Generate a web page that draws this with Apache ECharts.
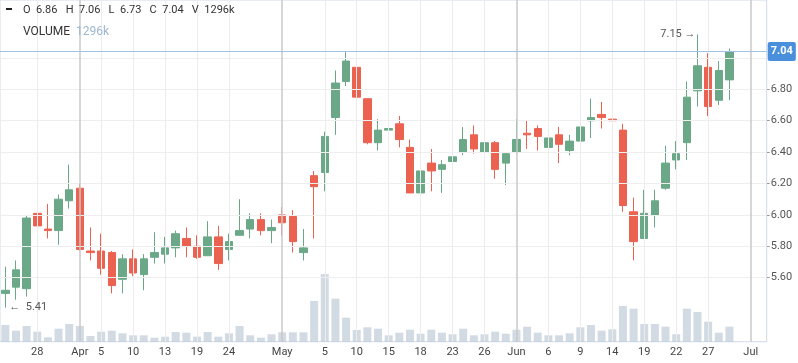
<!DOCTYPE html>
<html>
<head>
<meta charset="utf-8">
<script src="https://cdn.jsdelivr.net/npm/echarts@6/dist/echarts.min.js"></script>
<style>
html,body{margin:0;padding:0;background:#fff;}
#chart{width:798px;height:363px;}
</style>
</head>
<body>
<div id="chart"></div>
<script>
// ---- data ----
const categories = [
 '2023-03-23','2023-03-24','2023-03-27','2023-03-28','2023-03-29','2023-03-30','2023-03-31',
 '2023-04-03','2023-04-04','2023-04-05','2023-04-06','2023-04-07','2023-04-10','2023-04-11',
 '2023-04-12','2023-04-13','2023-04-17','2023-04-18','2023-04-19','2023-04-20','2023-04-21',
 '2023-04-24','2023-04-25','2023-04-26','2023-04-27','2023-04-28','2023-05-01','2023-05-02',
 '2023-05-03','2023-05-04','2023-05-05','2023-05-08','2023-05-09','2023-05-10','2023-05-11',
 '2023-05-12','2023-05-15','2023-05-16','2023-05-17','2023-05-18','2023-05-19','2023-05-22',
 '2023-05-23','2023-05-24','2023-05-25','2023-05-26','2023-05-30','2023-05-31','2023-06-01',
 '2023-06-02','2023-06-05','2023-06-06','2023-06-07','2023-06-08','2023-06-09','2023-06-12',
 '2023-06-13','2023-06-14','2023-06-15','2023-06-16','2023-06-19','2023-06-20','2023-06-21',
 '2023-06-22','2023-06-23','2023-06-26','2023-06-27','2023-06-28','2023-06-29','2023-06-30',
 '2023-07-03','2023-07-05'
];
const opens  = [5.50,5.54,5.53,6.01,5.91,5.90,6.09,6.17,5.77,5.77,5.76,5.59,5.72,5.62,5.73,5.75,5.79,5.85,5.80,5.74,
                5.86,5.78,5.87,5.91,5.97,5.90,6.00,5.99,5.76,6.25,6.27,6.62,6.85,6.94,6.74,6.46,6.54,6.58,6.43,6.14,
                6.33,6.29,6.34,6.40,6.51,6.40,6.46,6.33,6.40,6.52,6.55,6.43,6.51,6.41,6.47,6.60,6.64,6.61,6.54,6.02,
                5.85,6.00,6.17,6.35,6.46,6.79,6.94,6.73,6.86];
const closes = [5.52,5.65,5.98,5.93,5.90,6.10,6.16,5.78,5.76,5.66,5.55,5.72,5.63,5.72,5.76,5.79,5.88,5.80,5.73,5.86,
                5.69,5.83,5.90,5.97,5.90,5.92,5.95,5.83,5.79,6.18,6.50,6.84,6.98,6.75,6.46,6.54,6.55,6.48,6.14,6.28,
                6.28,6.32,6.37,6.48,6.42,6.46,6.29,6.39,6.48,6.51,6.50,6.49,6.45,6.47,6.56,6.62,6.62,6.60,6.06,5.83,
                6.01,6.09,6.33,6.39,6.75,6.95,6.69,6.92,7.04];
const lows   = [5.41,5.46,5.48,5.72,5.85,5.81,6.04,5.77,5.71,5.62,5.50,5.50,5.61,5.52,5.69,5.69,5.73,5.73,5.72,5.74,
                5.65,5.71,5.87,5.85,5.87,5.82,5.87,5.76,5.71,5.85,6.15,6.51,6.82,6.68,6.45,6.41,6.51,6.43,6.14,6.05,
                6.15,6.14,6.27,6.38,6.39,6.38,6.23,6.19,6.39,6.42,6.41,6.43,6.33,6.38,6.36,6.49,6.55,6.55,6.02,5.71,
                5.85,5.92,6.16,6.29,6.35,6.69,6.63,6.70,6.73];
const highs  = [5.67,5.71,6.00,6.06,6.07,6.13,6.32,6.20,5.92,5.88,5.77,5.75,5.78,5.75,5.89,5.86,5.90,5.92,5.87,5.96,
                5.93,5.88,6.10,6.01,6.01,5.97,6.05,6.03,5.91,6.28,6.53,6.92,7.04,7.00,6.74,6.61,6.61,6.63,6.48,6.29,
                6.42,6.35,6.38,6.56,6.57,6.53,6.47,6.40,6.61,6.60,6.57,6.59,6.56,6.51,6.57,6.74,6.72,6.76,6.58,6.11,
                6.16,6.16,6.44,6.47,6.85,7.15,7.03,6.98,7.06];
const volumes = [1443,950,1356,864,380,1123,1529,1356,492,864,950,726,553,553,346,432,838,778,432,838,
                 432,726,1356,553,346,639,812,812,812,3516,5849,3715,2074,1011,1244,1123,553,778,1037,691,
                 1037,778,639,1123,553,639,864,691,1037,1296,778,553,553,726,1244,1443,950,1071,3084,2851,
                 1529,1529,1296,639,2851,2566,1728,778,1296];
const priceTickLabels = [5.6,5.8,6.0,6.2,6.4,6.6,6.8];
const priceGridLines = [5.6,5.8,6.0,6.2,6.4,6.6,6.8,7.0];
const tickDates = ['2023-03-28','2023-04-03','2023-04-05','2023-04-10','2023-04-13','2023-04-19','2023-04-24',
                   '2023-05-01','2023-05-05','2023-05-10','2023-05-15','2023-05-18','2023-05-23','2023-05-26',
                   '2023-06-01','2023-06-06','2023-06-09','2023-06-14','2023-06-19','2023-06-22','2023-06-27',
                   '2023-07-03'];
const tickTexts = ['28','Apr','5','10','13','19','24','May','5','10','15','18','23','26',
                   'Jun','6','9','14','19','22','27','Jul'];
const monthNames = ['Apr','May','Jun','Jul'];

// ---- build ----
const UP = '#6aa888', DOWN = '#ec6251';
const FONT = 'Roboto, "Liberation Sans", sans-serif';
const tickMap = {};
tickDates.forEach((d,i)=>{ tickMap[d] = tickTexts[i]; });
const candleData = opens.map((o,i)=>[o, closes[i], lows[i], highs[i]]);
const n = opens.length;
const last = n - 1;
let hiIdx = 0, loIdx = 0;
highs.forEach((h,i)=>{ if (h > highs[hiIdx]) hiIdx = i; });
lows.forEach((l,i)=>{ if (l < lows[loIdx]) loIdx = i; });
const lastClose = closes[last];

const gridLineData = [];
priceGridLines.forEach(v => gridLineData.push({yAxis: v, lineStyle: {color: '#eeeeee', width: 1, type: 'solid'}}));
tickDates.forEach((d,i) => {
  const isMonth = monthNames.indexOf(tickTexts[i]) >= 0;
  gridLineData.push({xAxis: d, lineStyle: {color: isMonth ? '#c9c9c9' : '#ececec', width: isMonth ? 1.5 : 1, type: 'solid'}});
});

const chart = echarts.init(document.getElementById('chart'), null, {renderer: 'canvas'});
const fmt = v => v.toFixed(2);
const sp = '   ';
chart.setOption({
  animation: false,
  backgroundColor: '#ffffff',
  textStyle: {fontFamily: FONT},
  grid: {left: -5.6, top: 0, width: 772.3, height: 341.7, show: true, borderColor: '#cfdbe6', borderWidth: 1, backgroundColor: 'transparent'},
  xAxis: {
    type: 'category', data: categories, boundaryGap: true,
    axisLine: {show: false}, axisTick: {show: false}, splitLine: {show: false},
    axisLabel: {
      interval: (idx, val) => tickMap[val] !== undefined,
      formatter: val => tickMap[val] || '',
      color: '#444', fontSize: 11, margin: 5, fontFamily: FONT
    }
  },
  yAxis: [{
    type: 'value', position: 'right', min: 5.1924, max: 7.3688, scale: true,
    axisLine: {show: false},
    axisTick: {show: true, length: 3, lineStyle: {color: '#999'}, customValues: priceTickLabels},
    axisLabel: {customValues: priceTickLabels, formatter: v => v.toFixed(2), color: '#555', fontSize: 11, margin: 4, fontFamily: FONT},
    splitLine: {show: false}
  }, {
    type: 'value', min: 0, max: 29520, show: false, splitLine: {show: false}
  }],
  graphic: [
    {type: 'rect', shape: {x: 6, y: 8, width: 6, height: 2}, style: {fill: '#222'}, z: 100},
    {type: 'text', x: 23, y: 10, z: 100, style: {
      text: `O  ${fmt(opens[last])}${sp}H  ${fmt(highs[last])}${sp}L  ${fmt(lows[last])}${sp}C  ${fmt(closes[last])}${sp}V  ${volumes[last]}k`,
      fill: '#333', font: '11px ' + FONT, verticalAlign: 'middle'}},
    {type: 'text', x: 23, y: 32, z: 100, style: {
      text: 'VOLUME  {v|' + volumes[last] + 'k}',
      rich: {v: {fill: '#9db6cf', font: '12px ' + FONT}},
      fill: '#333', font: '12px ' + FONT, verticalAlign: 'middle'}}
  ],
  series: [
    {
      type: 'line', data: [], silent: true, z: 0, xAxisIndex: 0, yAxisIndex: 0,
      markLine: {symbol: 'none', silent: true, animation: false, label: {show: false}, emphasis: {disabled: true}, data: gridLineData}
    },
    {
      type: 'bar', data: volumes, yAxisIndex: 1, barWidth: 8, z: 1, silent: true,
      itemStyle: {color: 'rgba(166,183,200,0.5)'}
    },
    {
      type: 'line', data: [], silent: true, z: 2, xAxisIndex: 0, yAxisIndex: 0,
      markLine: {
        symbol: 'none', silent: true, animation: false,
        emphasis: {disabled: true},
        lineStyle: {color: '#a3c2e3', width: 1, type: 'solid'},
        label: {show: true, position: 'end', distance: 1, formatter: () => fmt(lastClose),
          backgroundColor: '#4a8fdc', color: '#fff', fontWeight: 'bold', fontSize: 11, lineHeight: 13,
          padding: [3, 3, 3, 3], borderRadius: 2, fontFamily: FONT},
        data: [{yAxis: lastClose, lineStyle: {color: '#a3c2e3', width: 1, type: 'solid'}}]
      }
    },
    {
      type: 'candlestick', data: candleData, barWidth: 8, z: 3,
      itemStyle: {color: UP, color0: DOWN, borderColor: UP, borderColor0: DOWN, borderWidth: 1},
      markPoint: {
        symbol: 'circle', symbolSize: 0, silent: true, animation: false,
        data: [
          {coord: [hiIdx, highs[hiIdx]], value: highs[hiIdx],
           label: {show: true, position: 'left', distance: 2, formatter: fmt(highs[hiIdx]) + ' \u2192', color: '#555', fontSize: 11, fontFamily: FONT}},
          {coord: [loIdx, lows[loIdx]], value: lows[loIdx],
           label: {show: true, position: 'right', distance: 4, formatter: '\u2190  ' + fmt(lows[loIdx]), color: '#555', fontSize: 11, fontFamily: FONT}}
        ]
      }
    }
  ]
});
</script>
</body>
</html>
